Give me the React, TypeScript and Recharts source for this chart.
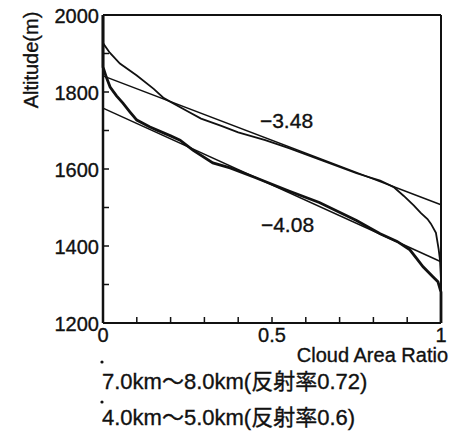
import React from 'react';
import { LineChart, Line, XAxis, YAxis } from 'recharts';

const xTicks = [0, 0.1, 0.2, 0.3, 0.4, 0.5, 0.6, 0.7, 0.8, 0.9, 1];
const xLabels = [0, 0.5, 1];
const yTicks = [1200, 1300, 1400, 1500, 1600, 1700, 1800, 1900, 2000];
const yLabels = [1200, 1400, 1600, 1800, 2000];

// 7.0km~8.0km curve
const upperCurveRatio = [0, 0, 0.02, 0.05, 0.1, 0.15, 0.18, 0.25, 0.29, 0.35, 0.4, 0.48, 0.55, 0.65, 0.75, 0.82, 0.86, 0.89, 0.92, 0.94, 0.96, 0.97, 0.985, 0.993, 0.997, 1.0, 1.0];
const upperCurveAlt = [2000, 1927, 1902, 1874, 1843, 1808, 1784, 1750, 1731, 1712, 1695, 1675, 1654, 1622, 1589, 1570, 1553, 1530, 1505, 1486, 1470, 1458, 1434, 1392, 1364, 1312, 1200];

// 4.0km~5.0km curve
const lowerCurveRatio = [0, 0, 0.01, 0.021, 0.04, 0.059, 0.08, 0.1, 0.139, 0.16, 0.2, 0.228, 0.266, 0.325, 0.376, 0.45, 0.55, 0.64, 0.75, 0.82, 0.87, 0.908, 0.93, 0.947, 0.976, 0.991, 1.0, 1.0];
const lowerCurveAlt = [2000, 1865, 1838, 1813, 1790, 1771, 1748, 1727, 1709, 1701, 1686, 1675, 1649, 1616, 1603, 1578, 1543, 1513, 1466, 1432, 1412, 1390, 1365, 1346, 1320, 1307, 1280, 1200];

// regression lines
const upperFitRatio = [0, 1];
const upperFitAlt = [1842, 1507];
const lowerFitRatio = [0, 1];
const lowerFitAlt = [1758, 1359];

const slopeLabels = ['\u22123.48', '\u22124.08'];
const legendLabels = ['7.0km\uFF5E8.0km(反射率0.72)', '4.0km\uFF5E5.0km(反射率0.6)'];
const yTitle = 'Altitude(m)';
const xTitle = 'Cloud Area Ratio';

const zip = (rs: number[], as: number[]) => rs.map((r, i) => ({ r, alt: as[i] }));

const upperCurve = zip(upperCurveRatio, upperCurveAlt);
const lowerCurve = zip(lowerCurveRatio, lowerCurveAlt);
const upperFit = zip(upperFitRatio, upperFitAlt);
const lowerFit = zip(lowerFitRatio, lowerFitAlt);

const FONT = '"Liberation Sans", Arial, "Noto Sans CJK JP", sans-serif';
const INK = '#111';
const TEXT_STROKE = 0.35;

const BottomTick = (props: any) => {
  const { x, y, payload } = props;
  const v = payload.value;
  return (
    <g>
      <line x1={x} y1={y} x2={x} y2={y - 6} stroke={INK} strokeWidth={1.5} />
      {xLabels.includes(v) && (
        <text x={x} y={y + 19} textAnchor="middle" fontSize={20} fontFamily={FONT} fill={INK} stroke={INK} strokeWidth={TEXT_STROKE}>
          {String(v)}
        </text>
      )}
    </g>
  );
};

const TopTick = (props: any) => {
  const { x, y } = props;
  return <line x1={x} y1={y} x2={x} y2={y + 6} stroke={INK} strokeWidth={1.5} />;
};

const LeftTick = (props: any) => {
  const { x, y, payload } = props;
  const v = payload.value;
  return (
    <g>
      <line x1={x} y1={y} x2={x + 6} y2={y} stroke={INK} strokeWidth={1.5} />
      {yLabels.includes(v) && (
        <text x={x - 4} y={y + 7.5} textAnchor="end" fontSize={20} fontFamily={FONT} fill={INK} stroke={INK} strokeWidth={TEXT_STROKE}>
          {String(v)}
        </text>
      )}
    </g>
  );
};

const RightTick = (props: any) => {
  const { x, y } = props;
  return <line x1={x} y1={y} x2={x - 6} y2={y} stroke={INK} strokeWidth={1.5} />;
};

export default function App() {
  return (
    <div style={{ position: 'absolute', left: 0, top: 0, width: 458, height: 432, background: '#fff' }}>
      <LineChart width={458} height={432} margin={{ top: 14, right: 16, left: 0, bottom: 0 }}>
        <XAxis
          dataKey="r"
          type="number"
          domain={[0, 1]}
          ticks={xTicks}
          interval={0}
          height={109}
          tickSize={0}
          tickMargin={0}
          tickLine={false}
          axisLine={{ stroke: INK, strokeWidth: 2 }}
          tick={BottomTick}
        />
        <XAxis
          xAxisId="top"
          orientation="top"
          dataKey="r"
          type="number"
          domain={[0, 1]}
          ticks={xTicks}
          interval={0}
          height={1}
          tickSize={0}
          tickMargin={0}
          tickLine={false}
          axisLine={{ stroke: INK, strokeWidth: 2 }}
          tick={TopTick}
        />
        <YAxis
          type="number"
          domain={[1200, 2000]}
          ticks={yTicks}
          interval={0}
          width={103}
          tickSize={0}
          tickMargin={0}
          tickLine={false}
          axisLine={{ stroke: INK, strokeWidth: 2.5 }}
          tick={LeftTick}
        />
        <YAxis
          yAxisId="right"
          orientation="right"
          type="number"
          domain={[1200, 2000]}
          ticks={yTicks}
          interval={0}
          width={1}
          tickSize={0}
          tickMargin={0}
          tickLine={false}
          axisLine={{ stroke: INK, strokeWidth: 2 }}
          tick={RightTick}
        />
        <Line data={upperFit} dataKey="alt" type="linear" stroke={INK} strokeWidth={1.5} dot={false} isAnimationActive={false} />
        <Line data={lowerFit} dataKey="alt" type="linear" stroke={INK} strokeWidth={1.5} dot={false} isAnimationActive={false} />
        <Line data={upperCurve} dataKey="alt" type="linear" stroke={INK} strokeWidth={1.8} dot={false} isAnimationActive={false} />
        <Line data={lowerCurve} dataKey="alt" type="linear" stroke={INK} strokeWidth={2.8} dot={false} isAnimationActive={false} />
      </LineChart>
      <svg width={458} height={432} style={{ position: 'absolute', left: 0, top: 0, pointerEvents: 'none' }}>
        <text transform="translate(38,60) rotate(-90)" textAnchor="middle" fontSize={20} fontFamily={FONT} fill={INK} stroke={INK} strokeWidth={TEXT_STROKE}>
          {yTitle}
        </text>
        <text x={448} y={362} textAnchor="end" fontSize={20} fontFamily={FONT} fill={INK} stroke={INK} strokeWidth={TEXT_STROKE}>
          {xTitle}
        </text>
        <text x={286.5} y={128} textAnchor="middle" fontSize={21} fontFamily={FONT} fill={INK} stroke={INK} strokeWidth={TEXT_STROKE}>
          {slopeLabels[0]}
        </text>
        <text x={287.5} y={232} textAnchor="middle" fontSize={21} fontFamily={FONT} fill={INK} stroke={INK} strokeWidth={TEXT_STROKE}>
          {slopeLabels[1]}
        </text>
        <circle cx={102} cy={362} r={1.6} fill={INK} />
        <circle cx={102} cy={402} r={1.6} fill={INK} />
        <text x={102} y={389} fontSize={22} fontFamily={FONT} fill={INK} stroke={INK} strokeWidth={TEXT_STROKE}>
          {legendLabels[0]}
        </text>
        <text x={102} y={425} fontSize={22} fontFamily={FONT} fill={INK} stroke={INK} strokeWidth={TEXT_STROKE}>
          {legendLabels[1]}
        </text>
      </svg>
    </div>
  );
}
